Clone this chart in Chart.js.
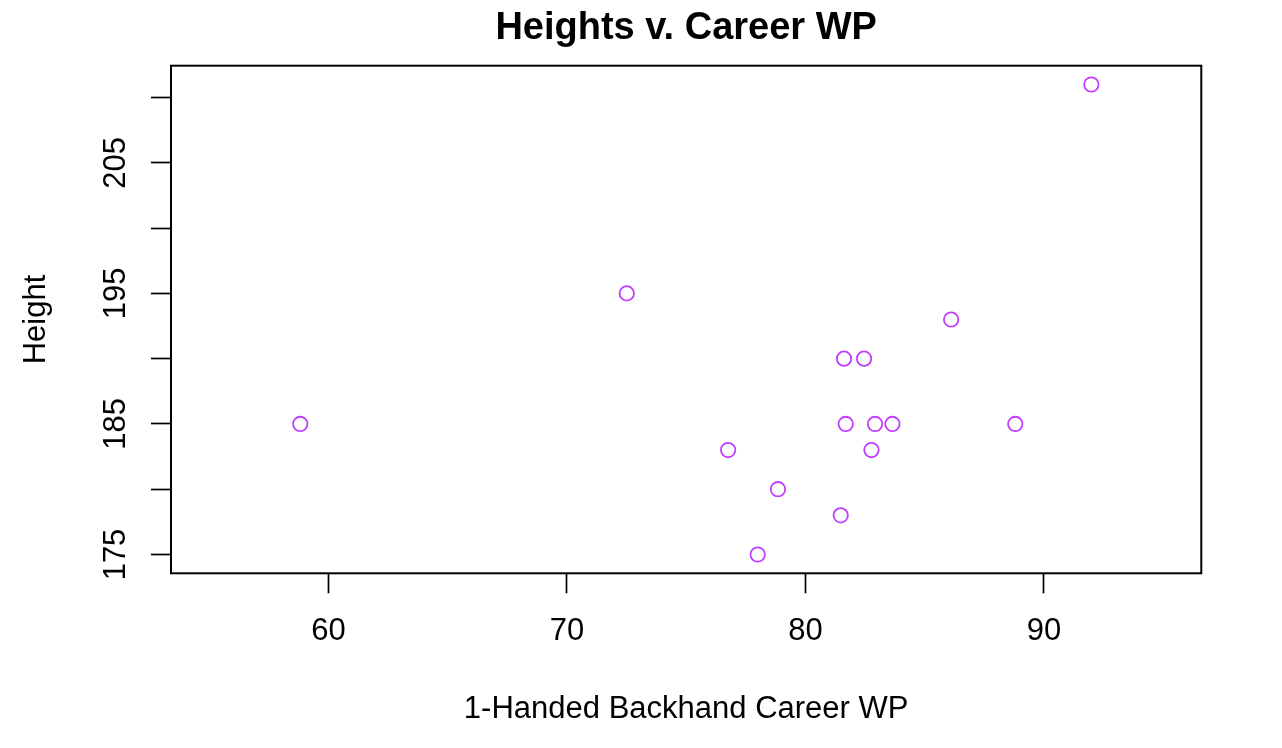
<!DOCTYPE html>
<html>
<head>
<meta charset="utf-8">
<script src="https://cdn.jsdelivr.net/npm/chart.js@4/dist/chart.umd.min.js"></script>
<style>
  html, body { margin: 0; padding: 0; background: #ffffff; }
  #wrap { width: 1282px; height: 748px; }
</style>
</head>
<body>
<div id="wrap"><canvas id="c" width="1282" height="748"></canvas></div>
<script>
// ---- data ----
const careerWP = [58.82, 72.51, 76.76, 78.0, 78.85, 81.48, 81.62, 81.69, 82.46, 82.77, 82.92, 83.65, 86.11, 88.8, 91.99];
const heights  = [185,   195,   183,   175,  180,   178,   190,   185,   190,   183,   185,   185,   193,   185,  211];
const xTicks = [60, 70, 80, 90];
const yTicks = [175, 180, 185, 190, 195, 200, 205, 210];
const yTickLabels = [175, 185, 195, 205];
const chartTitle = 'Heights v. Career WP';
const xTitle = '1-Handed Backhand Career WP';
const yTitle = 'Height';

const FONT = "'Liberation Sans', Arial, Helvetica, sans-serif";

const points = careerWP.map((v, i) => ({ x: v, y: heights[i] }));

const boxPlugin = {
  id: 'rbox',
  afterDraw(chart) {
    const a = chart.chartArea;
    const ctx = chart.ctx;
    ctx.save();
    ctx.strokeStyle = '#000000';
    ctx.lineWidth = 2;
    ctx.strokeRect(a.left, a.top, a.right - a.left, a.bottom - a.top);
    ctx.restore();
  }
};

new Chart(document.getElementById('c'), {
  type: 'scatter',
  data: {
    datasets: [{
      label: 'Height',
      data: points,
      pointStyle: 'circle',
      pointRadius: 7.2,
      pointHoverRadius: 7.2,
      pointBorderWidth: 1.8,
      pointHoverBorderWidth: 1.8,
      borderColor: '#BF3EFF',
      backgroundColor: 'rgba(0,0,0,0)',
      pointBackgroundColor: 'rgba(0,0,0,0)'
    }]
  },
  options: {
    responsive: false,
    animation: false,
    devicePixelRatio: 1,
    layout: { padding: { left: 0, right: 80.7, top: 0, bottom: 0 } },
    plugins: {
      legend: { display: false },
      tooltip: { enabled: false },
      title: {
        display: true,
        fullSize: false,
        text: chartTitle,
        color: '#000000',
        font: { family: FONT, size: 38, weight: 'bold', lineHeight: 1.2 },
        padding: { top: 5.5, bottom: 14.6 }
      }
    },
    scales: {
      x: {
        type: 'linear',
        position: 'bottom',
        min: 53.4,
        max: 96.6,
        afterBuildTicks(scale) { scale.ticks = xTicks.map(v => ({ value: v })); },
        afterFit(scale) { scale.height = 748 - 573.3; },
        border: { display: false },
        grid: {
          display: true,
          drawOnChartArea: false,
          drawTicks: true,
          tickLength: 20,
          tickWidth: 1.7,
          tickColor: '#000000'
        },
        ticks: {
          autoSkip: false,
          maxRotation: 0,
          minRotation: 0,
          padding: 20,
          color: '#000000',
          font: { family: FONT, size: 31 },
          callback: (v) => String(v)
        },
        title: {
          display: true,
          text: xTitle,
          color: '#000000',
          font: { family: FONT, size: 31, lineHeight: 1.2 },
          padding: { top: 0, bottom: 20.1 }
        }
      },
      y: {
        type: 'linear',
        position: 'left',
        min: 173.56,
        max: 212.44,
        afterBuildTicks(scale) { scale.ticks = yTicks.map(v => ({ value: v })); },
        afterFit(scale) { scale.width = 171; },
        border: { display: false },
        grid: {
          display: true,
          drawOnChartArea: false,
          drawTicks: true,
          tickLength: 20,
          tickWidth: 1.7,
          tickColor: '#000000'
        },
        ticks: {
          autoSkip: false,
          minRotation: 90,
          maxRotation: 90,
          crossAlign: 'center',
          padding: 8.8,
          color: '#000000',
          font: { family: FONT, size: 31 },
          callback: (v) => (yTickLabels.includes(v) ? String(v) : '')
        },
        title: {
          display: true,
          text: yTitle,
          color: '#000000',
          font: { family: FONT, size: 31, lineHeight: 1.2 },
          padding: { top: 18, bottom: 0 }
        }
      }
    }
  },
  plugins: [boxPlugin]
});
</script>
</body>
</html>
